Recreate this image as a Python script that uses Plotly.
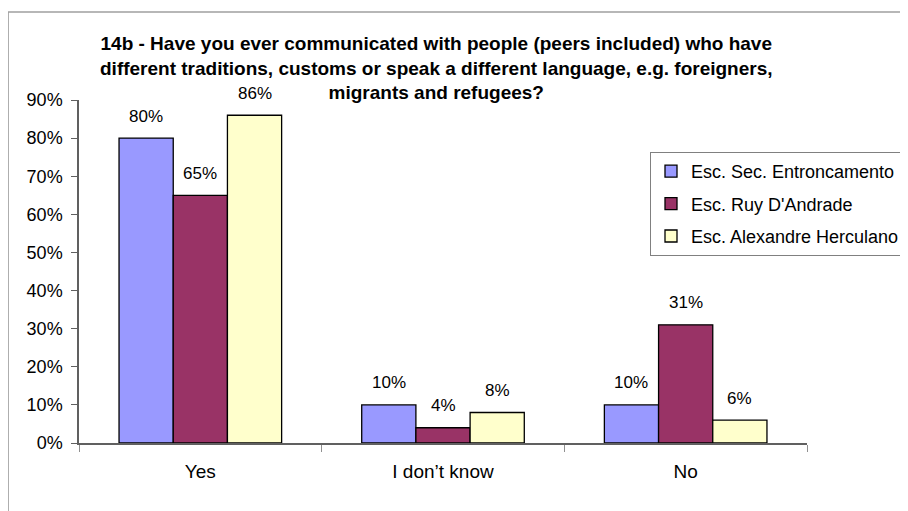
import plotly.graph_objects as go

categories = ["Yes", "I don\u2019t know", "No"]
series_names = ["Esc. Sec. Entroncamento", "Esc. Ruy D'Andrade", "Esc. Alexandre Herculano"]
entroncamento = [80, 10, 10]
ruy = [65, 4, 31]
herculano = [86, 8, 6]
y_ticks = [0, 10, 20, 30, 40, 50, 60, 70, 80, 90]

colors = ["#9999FF", "#993366", "#FFFFCC"]
all_vals = [entroncamento, ruy, herculano]

FONT = "Liberation Sans, Arial, sans-serif"

fig = go.Figure()
for name, vals, col in zip(series_names, all_vals, colors):
    fig.add_trace(go.Bar(
        x=categories, y=vals, name=name, legendgroup=name,
        marker=dict(color=col, line=dict(color="#000000", width=1.3)),
    ))

# plot area in page pixels (page has 8px body margin)
PL, PR, PT, PB = 79, 808, 100, 443
PW, PH = PR - PL, PB - PT

bar_w = PW / 3 * (1 - 0.33) / 3
annotations = []
for i, vals in enumerate(all_vals):
    for c, v in zip(categories, vals):
        annotations.append(dict(
            x=c, y=v, xref="x", yref="y", text=f"{v}%", showarrow=False,
            xshift=(i - 1) * bar_w, yshift=22, yanchor="middle",
            font=dict(family=FONT, size=17, color="#000000"),
        ))

title_text = ("<b>14b - Have you ever communicated with people (peers included) who have<br>"
              "different traditions, customs or speak a different language, e.g. foreigners,<br>"
              "migrants and refugees?</b>")
annotations.append(dict(
    x=(437 - PL) / PW, y=(PB - 105) / PH, xref="paper", yref="paper",
    xanchor="center", yanchor="bottom",
    text=title_text, showarrow=False, align="center",
    font=dict(family=FONT, size=19, color="#000000"),
))

fig.update_layout(
    width=908, height=511,
    margin=dict(l=PL - 8, r=908 - (PR - 8), t=PT - 8, b=511 - (PB - 8)),
    paper_bgcolor="white", plot_bgcolor="white",
    bargap=0.33, bargroupgap=0,
    barmode="group",
    showlegend=True,
    legend=dict(
        x=(650 - PL) / PW, y=(PB - 152) / PH, xanchor="left", yanchor="top",
        bordercolor="#808080", borderwidth=1, bgcolor="white",
        font=dict(family=FONT, size=18, color="#000000"),
        tracegroupgap=6, itemwidth=30,
    ),
    xaxis=dict(
        showline=True, linecolor="#606060", linewidth=1.5,
        ticks="outside", tickson="boundaries", ticklen=7, tickcolor="#909090",
        ticklabelstandoff=10,
        tickfont=dict(family=FONT, size=19, color="#000000"),
        showgrid=False,
    ),
    yaxis=dict(
        range=[0, 90], tickvals=y_ticks, ticktext=[f"{t}%" for t in y_ticks],
        showline=True, linecolor="#606060", linewidth=1.5,
        ticks="outside", ticklen=6, tickcolor="#606060",
        ticklabelstandoff=5,
        tickfont=dict(family=FONT, size=18, color="#000000"),
        showgrid=False, zeroline=False,
    ),
    annotations=annotations,
    shapes=[dict(
        type="rect", xref="paper", yref="paper",
        x0=(8 - PL) / PW, x1=1.4, y0=-0.5, y1=(PB - 12) / PH,
        line=dict(color="#a0a0a0", width=1.5), layer="below",
    )],
)

fig.write_html("out.html")
